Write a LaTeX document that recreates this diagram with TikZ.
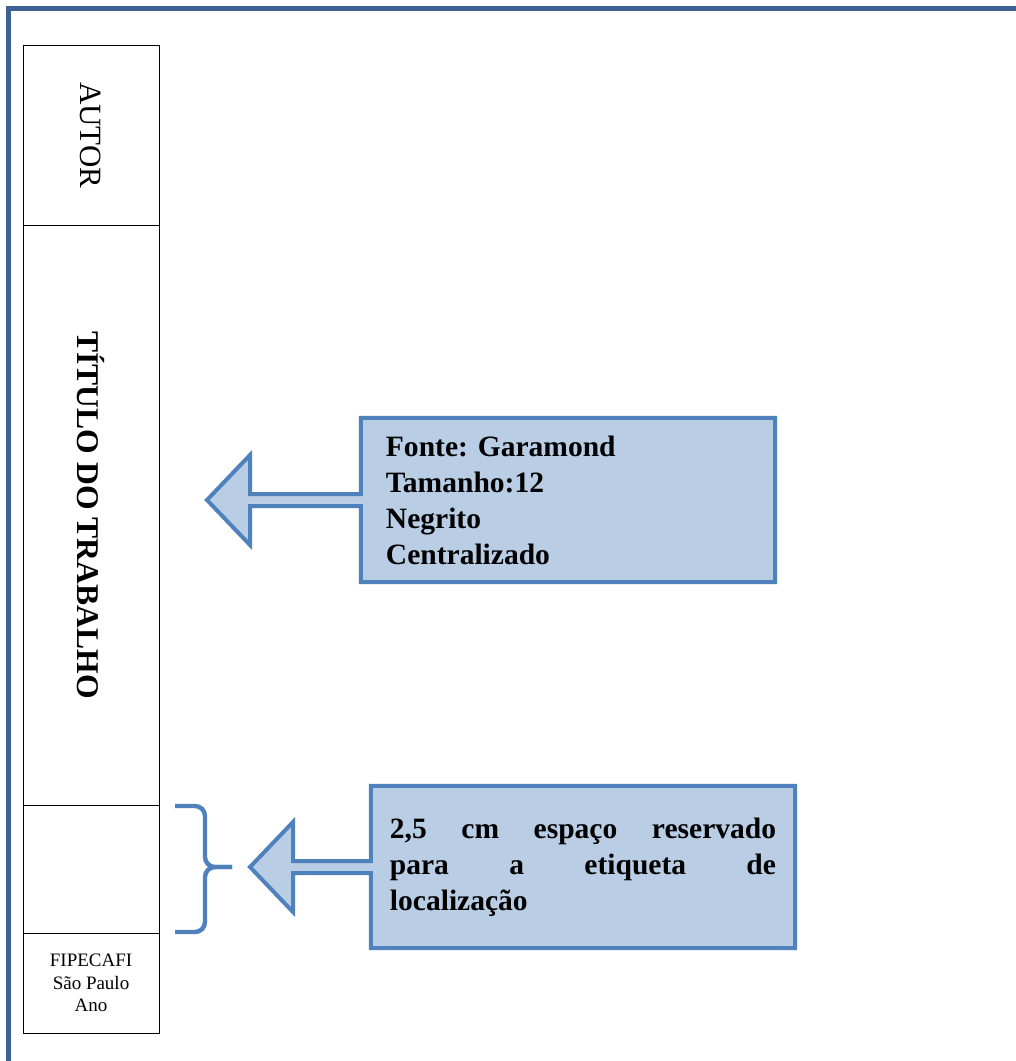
\documentclass[tikz,border=0pt]{standalone}
\usepackage{fontspec}
\setmainfont{Liberation Serif}
\usetikzlibrary{positioning}
\definecolor{pageblue}{RGB}{62,98,148}
\definecolor{boxline}{RGB}{79,129,189}
\definecolor{boxfill}{RGB}{185,205,229}

\begin{document}
\begin{tikzpicture}[x=0.025cm, y=-0.025cm,
        spinebox/.style={draw=black, line width=0.6pt, minimum width=3.4cm, inner sep=0pt, outer sep=0pt},
        spinetext/.style={rotate=-90, font=\fontsize{22}{26}\selectfont},
        callout/.style={fill=boxfill, inner ysep=0pt, outer sep=0pt, font=\bfseries\frenchspacing\fontsize{21}{25.6}\selectfont},
        boxedge/.style={draw=boxline, line width=0.1cm, line join=miter},
        pageline/.style={draw=pageblue, line width=0.125cm}]
        \useasboundingbox (0,0) rectangle (1016,1061);

        % Page border
        \draw[pageline] (1016,8.5) -- (8.5,8.5) -- (8.5,1061);

        % Spine of the book
        \node[spinebox, minimum height=4.5cm, anchor=north west] (autor) at (23,45) {};
        \node[spinebox, minimum height=14.5cm, below=0pt of autor] (titulo) {};
        \node[spinebox, minimum height=3.2cm, below=0pt of titulo] (etiqueta) {};
        \node[spinebox, minimum height=2.5cm, below=0pt of etiqueta, align=center, font=\fontsize{13.5}{16}\selectfont] (fipecafi) {FIPECAFI\\São Paulo\\Ano};
        \node[spinetext] (autortxt) at (autor) {AUTOR};
        \node[spinetext, font=\bfseries\fontsize{22.5}{26}\selectfont] (titulotxt) at (titulo) {TÍTULO DO TRABALHO};

        % Callout boxes
        \node[callout, text width=9.1cm, inner xsep=0.625cm, minimum height=4.1cm, align=left] (fonte) at (568,500) {Fonte: Garamond\\Tamanho:12\\Negrito\\Centralizado};
        \node[callout, text width=9.65cm, inner xsep=0.475cm, minimum height=4.05cm, align=justify] (reserva) at (583,867) {2,5 cm espaço reservado\linebreak para a etiqueta de\linebreak localização};

        % Block arrows
        \coordinate (tip1) at (207,500);
        \fill[boxfill] (tip1) -- ++(43,-45) -- ++(0,39) -- ([shift={(0,-6)}]fonte.west) -- ([shift={(0,6)}]fonte.west) -- ([shift={(43,6)}]tip1) -- ++(0,39) -- cycle;
        \draw[boxedge] (fonte.north west) -- (fonte.north east) -- (fonte.south east) -- (fonte.south west) -- ([shift={(0,6)}]fonte.west) -- ([shift={(43,6)}]tip1) -- ++(0,39) -- (tip1) -- ++(43,-45) -- ++(0,39) -- ([shift={(0,-6)}]fonte.west) -- cycle;
        \coordinate (tip2) at (250,867);
        \fill[boxfill] (tip2) -- ++(43,-45) -- ++(0,39) -- ([shift={(0,-6)}]reserva.west) -- ([shift={(0,6)}]reserva.west) -- ([shift={(43,6)}]tip2) -- ++(0,39) -- cycle;
        \draw[boxedge] (reserva.north west) -- (reserva.north east) -- (reserva.south east) -- (reserva.south west) -- ([shift={(0,6)}]reserva.west) -- ([shift={(43,6)}]tip2) -- ++(0,39) -- (tip2) -- ++(43,-45) -- ++(0,39) -- ([shift={(0,-6)}]reserva.west) -- cycle;

        % Brace
        \draw[boxline, line width=0.11cm, rounded corners=0.25cm] (175,806) -| (205,867) -- (232,867);
        \draw[boxline, line width=0.11cm, rounded corners=0.25cm] (232,867) -- (205,867) |- (175,932);
    \end{tikzpicture}
\end{document}
